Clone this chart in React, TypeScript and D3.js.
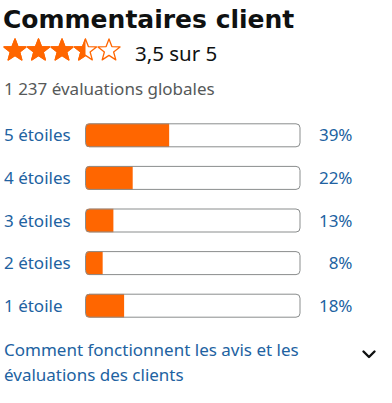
import * as d3 from "d3";
import { useEffect, useRef } from "react";

const categories = ["5 étoiles", "4 étoiles", "3 étoiles", "2 étoiles", "1 étoile"];
const percents = [39, 22, 13, 8, 18];
const rating = 3.5;
const maxRating = 5;
const totalRatings = "1 237 évaluations globales";

const W = 392;
const H = 403;
const FONT = "'Noto Sans', 'Open Sans', sans-serif";
const TITLE_FONT = "'DejaVu Sans', 'Noto Sans', sans-serif";
const BLUE = "#2162a1";
const ORANGE = "#ff6600";

export default function App() {
  const ref = useRef<SVGSVGElement>(null);

  useEffect(() => {
    const svg = d3.select(ref.current);
    svg.selectAll("*").remove();

    svg.append("text")
      .attr("x", 3).attr("y", 28)
      .attr("font-family", TITLE_FONT).attr("font-weight", 700).attr("font-size", 25)
      .attr("fill", "#0f1111")
      .text("Commentaires client");

    // stars
    const starX = d3.scaleLinear().domain([0, maxRating - 1]).range([15, 109]);
    const r = 11.6;
    const pts: [number, number][] = d3.range(10).map(i => {
      const a = (i * Math.PI) / 5;
      const rr = i % 2 === 0 ? r : r * 0.42;
      return [a, rr];
    });
    const starPath = d3.lineRadial().curve(d3.curveLinearClosed)(pts) as string;
    const defs = svg.append("defs");
    d3.range(maxRating).forEach(i => {
      const frac = Math.max(0, Math.min(1, rating - i));
      defs.append("clipPath").attr("id", `clip-star-${i}`)
        .append("rect")
        .attr("x", -r).attr("y", -r - 1)
        .attr("width", 2 * r * frac).attr("height", 2 * r + 2);
      const g = svg.append("g").attr("transform", `translate(${starX(i)},50.5)`);
      g.append("path").attr("d", starPath)
        .attr("fill", "none").attr("stroke", ORANGE).attr("stroke-width", 1.3)
        .attr("stroke-linejoin", "round");
      g.append("path").attr("d", starPath)
        .attr("fill", ORANGE).attr("stroke", ORANGE).attr("stroke-width", 1.3)
        .attr("stroke-linejoin", "round")
        .attr("clip-path", `url(#clip-star-${i})`);
    });

    svg.append("text")
      .attr("x", 135).attr("y", 61)
      .attr("font-family", FONT).attr("font-size", 20.5).attr("fill", "#0f1111")
      .text(`${d3.format(".1f")(rating).replace(".", ",")} sur ${maxRating}`);

    svg.append("text")
      .attr("x", 4).attr("y", 95)
      .attr("font-family", FONT).attr("font-size", 17).attr("fill", "#565959")
      .text(totalRatings);

    // bars
    const y = d3.scalePoint<string>().domain(categories).range([135.3, 305.7]);
    const x = d3.scaleLinear().domain([0, 100]).range([85.5, 300]);
    const bh = 24;

    const rows = svg.append("g").selectAll("g")
      .data(categories.map((c, i) => ({ c, p: percents[i] })))
      .join("g")
      .attr("transform", d => `translate(0,${y(d.c)})`);

    rows.append("text")
      .attr("x", 4).attr("y", 6)
      .attr("font-family", FONT).attr("font-size", 17).attr("fill", BLUE)
      .text(d => d.c);

    rows.each(function (d, i) {
      const g = d3.select(this);
      defs.append("clipPath").attr("id", `clip-bar-${i}`)
        .append("rect")
        .attr("x", x(0)).attr("y", -bh / 2)
        .attr("width", x(100) - x(0)).attr("height", bh)
        .attr("rx", 4);
      g.append("rect")
        .attr("x", x(0)).attr("y", -bh / 2)
        .attr("width", x(d.p) - x(0)).attr("height", bh)
        .attr("fill", ORANGE)
        .attr("clip-path", `url(#clip-bar-${i})`);
      g.append("rect")
        .attr("x", x(0)).attr("y", -bh / 2 + 0.5)
        .attr("width", x(100) - x(0)).attr("height", bh - 1)
        .attr("rx", 4)
        .attr("fill", "none").attr("stroke", "#8a8d8d").attr("stroke-width", 1);
    });

    rows.append("text")
      .attr("x", 352.5).attr("y", 6)
      .attr("text-anchor", "end")
      .attr("font-family", FONT).attr("font-size", 17).attr("fill", BLUE)
      .text(d => `${d.p}%`);

    const link = svg.append("text")
      .attr("font-family", FONT).attr("font-size", 17).attr("fill", BLUE);
    link.append("tspan").attr("x", 4).attr("y", 356).text("Comment fonctionnent les avis et les");
    link.append("tspan").attr("x", 4).attr("y", 381).text("évaluations des clients");

    svg.append("path")
      .attr("d", "M363.5,351.5 L369,357 L374.5,351.5")
      .attr("fill", "none").attr("stroke", "#0f1111").attr("stroke-width", 2.4)
      .attr("stroke-linecap", "round").attr("stroke-linejoin", "round");
  }, []);

  return (
    <svg
      ref={ref}
      width={W}
      height={H}
      style={{ position: "absolute", left: 0, top: 0, background: "#fff" }}
    />
  );
}
